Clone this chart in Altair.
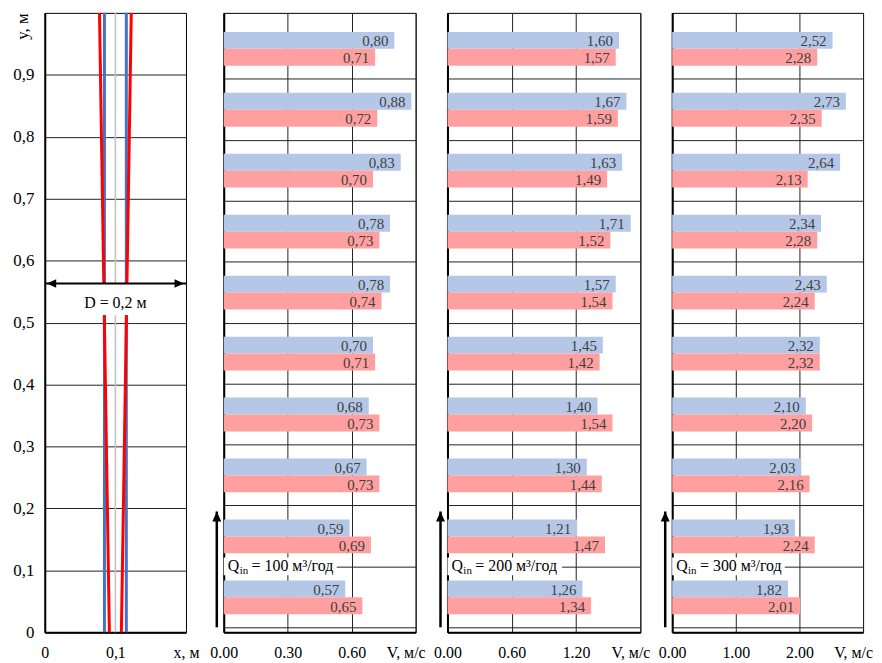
import altair as alt
import pandas as pd

# ---------------- data ----------------
levels = [0.05, 0.15, 0.25, 0.35, 0.45, 0.55, 0.65, 0.75, 0.85, 0.95]

q100_blue = [0.57, 0.59, 0.67, 0.68, 0.70, 0.78, 0.78, 0.83, 0.88, 0.80]
q100_red = [0.65, 0.69, 0.73, 0.73, 0.71, 0.74, 0.73, 0.70, 0.72, 0.71]
q200_blue = [1.26, 1.21, 1.30, 1.40, 1.45, 1.57, 1.71, 1.63, 1.67, 1.60]
q200_red = [1.34, 1.47, 1.44, 1.54, 1.42, 1.54, 1.52, 1.49, 1.59, 1.57]
q300_blue = [1.82, 1.93, 2.03, 2.10, 2.32, 2.43, 2.34, 2.64, 2.73, 2.52]
q300_red = [2.01, 2.24, 2.16, 2.20, 2.32, 2.24, 2.28, 2.13, 2.35, 2.28]

q_values = ["100", "200", "300"]
x_max = [0.9, 1.8, 3.0]
x_ticks = [[0, 0.3, 0.6, 0.9], [0, 0.6, 1.2, 1.8], [0, 1.0, 2.0, 3.0]]
label_box_end = [0.53, 1.07, 1.77]

y_ticks = [0, 0.1, 0.2, 0.3, 0.4, 0.5, 0.6, 0.7, 0.8, 0.9]

# pipe wall profiles (x, y); seg splits the break at the "D" label
wall_seg = ["rl1", "rl1", "rl2", "rl2", "rr1", "rr1", "rr2", "rr2"]
wall_x = [0.0915, 0.0843, 0.0836, 0.0775, 0.1085, 0.1157, 0.1164, 0.1225]
wall_y = [0.0, 0.512, 0.563, 1.0, 0.0, 0.512, 0.563, 1.0]

blue_seg = ["bl1", "bl1", "bl2", "bl2", "br1", "br1", "br2", "br2"]
blue_x = [0.0845, 0.0845, 0.0845, 0.0845, 0.1155, 0.1155, 0.1155, 0.1155]
blue_y = [0.0, 0.512, 0.563, 1.0, 0.0, 0.512, 0.563, 1.0]

axis_seg = ["c1", "c1", "c2", "c2"]
axis_x = [0.1, 0.1, 0.1, 0.1]
axis_y = [0.0, 0.512, 0.563, 1.0]

d_arrow_y = 0.563
d_text_y = 0.531
q_arrow_top = 0.19
q_label_y = 0.1

FONT = "Liberation Serif"
BLUE_BAR = "#b4c7e7"
RED_BAR = "#ff9f9f"
TXT = "#404040"

H = 623
LEFT_W = 142
PANEL_W = [193, 194, 192]

YS = alt.Scale(domain=[0, 1], nice=False, zero=False)


def y_enc(field="y", show_labels=False):
    extra = {}
    if show_labels:
        extra = dict(
            title="y, м", titleAngle=270, titleX=-22, titleY=0, titleAlign="right",
            titleBaseline="middle", titleFont=FONT, titleFontSize=17,
            titleFontWeight="normal", titleColor="black",
        )
    else:
        extra = dict(title=None)
    return alt.Y(
        f"{field}:Q",
        scale=YS,
        axis=alt.Axis(
            values=y_ticks,
            grid=True,
            gridColor="#222222",
            gridWidth=1,
            ticks=False,
            labels=show_labels,
            labelExpr="replace(format(datum.value, '.1~f'), '.', ',')",
            labelFont=FONT,
            labelFontSize=17,
            labelColor="black",
            labelPadding=11,
            labelOverlap=False,
            domainColor="black",
            domainWidth=2,
            **extra,
        ),
    )


# ---------------- left panel ----------------
walls = pd.DataFrame({"seg": wall_seg, "x": wall_x, "y": wall_y})
blues = pd.DataFrame({"seg": blue_seg, "x": blue_x, "y": blue_y})
center = pd.DataFrame({"seg": axis_seg, "x": axis_x, "y": axis_y})

XS_L = alt.Scale(domain=[0, 0.2], nice=False, zero=False)
left_x = alt.X(
    "x:Q",
    scale=XS_L,
    axis=alt.Axis(
        values=[0, 0.1, 0.2],
        grid=False,
        ticks=False,
        labelExpr="datum.value >= 0.2 ? 'x, м' : replace(format(datum.value, '.1~f'), '.', ',')",
        labelFont=FONT,
        labelFontSize=16,
        labelColor="black",
        labelPadding=12,
        labelFlush=False,
        labelOverlap=False,
        domainColor="black",
        domainWidth=2,
        title=None,
    ),
)

base_left = alt.Chart(center).mark_line(color="#c0c0c0", strokeWidth=1.5).encode(
    x=left_x, y=y_enc("y", True), detail="seg:N", order="y:Q"
)
blue_lines = alt.Chart(blues).mark_line(color="#4472c4", strokeWidth=3).encode(
    x=left_x, y=y_enc("y", True), detail="seg:N", order="y:Q"
)
red_lines = alt.Chart(walls).mark_line(color="#ff0000", strokeWidth=3).encode(
    x=left_x, y=y_enc("y", True), detail="seg:N", order="y:Q"
)

d_df = pd.DataFrame({"x": [0.0], "x2": [0.2], "y": [d_arrow_y], "yt": [d_text_y], "xc": [0.1], "t": ["D = 0,2 м"]})
d_rule = alt.Chart(d_df).mark_rule(color="black", strokeWidth=2).encode(
    x=left_x, x2="x2:Q", y=y_enc("y", True)
)
d_head_l = alt.Chart(d_df).mark_point(
    shape="M0,0 L1,-0.45 L1,0.45 Z", filled=True, color="black", opacity=1, size=360, xOffset=2
).encode(x=left_x, y=y_enc("y", True))
d_head_r = alt.Chart(d_df).mark_point(
    shape="M0,0 L-1,-0.45 L-1,0.45 Z", filled=True, color="black", opacity=1, size=360, xOffset=-2
).encode(x=alt.X("x2:Q", scale=XS_L), y=y_enc("y", True))
d_text = alt.Chart(d_df).mark_text(font=FONT, fontSize=16, color="black", baseline="middle").encode(
    x=alt.X("xc:Q", scale=XS_L), y=alt.Y("yt:Q", scale=YS), text="t:N"
)

left = alt.layer(
    base_left, blue_lines, red_lines, d_rule, d_head_l, d_head_r, d_text
).properties(width=LEFT_W, height=H)


# ---------------- bar panels ----------------
def fmt(v):
    return f"{v:.2f}".replace(".", ",")


def bar_panel(i, blue, red):
    xm = x_max[i]
    xs = alt.Scale(domain=[0, xm], nice=False, zero=True)
    xe = alt.X(
        "v:Q",
        scale=xs,
        axis=alt.Axis(
            values=x_ticks[i],
            grid=True,
            gridColor="#222222",
            gridWidth=1,
            ticks=False,
            labelExpr=f"datum.value >= {xm} ? 'V, м/с' : format(datum.value, '.2f')",
            labelOffset={"condition": {"test": f"datum.value >= {xm}", "value": -10}, "value": 0},
            labelFont=FONT,
            labelFontSize=16,
            labelColor="black",
            labelPadding=12,
            labelFlush=False,
            labelOverlap=False,
            domainColor="black",
            domainWidth=2,
            title=None,
        ),
    )
    dfb = pd.DataFrame({"level": levels, "v": blue, "label": [fmt(v) for v in blue]})
    dfr = pd.DataFrame({"level": levels, "v": red, "label": [fmt(v) for v in red]})

    bars_b = alt.Chart(dfb).mark_bar(orient="horizontal", size=17, yOffset=-8, color=BLUE_BAR).encode(
        x=xe, y=y_enc("level")
    )
    bars_r = alt.Chart(dfr).mark_bar(orient="horizontal", size=17, yOffset=9, color=RED_BAR).encode(
        x=xe, y=y_enc("level")
    )
    txt_b = alt.Chart(dfb).mark_text(
        font=FONT, fontSize=15, color=TXT, align="right", baseline="middle", dx=-6, yOffset=-7
    ).encode(x=xe, y=y_enc("level"), text="label:N")
    txt_r = alt.Chart(dfr).mark_text(
        font=FONT, fontSize=15, color=TXT, align="right", baseline="middle", dx=-6, yOffset=10
    ).encode(x=xe, y=y_enc("level"), text="label:N")

    ann = pd.DataFrame({
        "v": [0.0], "v2": [label_box_end[i]], "level": [q_label_y], "top": [q_arrow_top],
        "q": ["Q"], "sub": ["in"], "rest": [f"= {q_values[i]} м³/год"],
    })
    box = alt.Chart(ann).mark_bar(orient="horizontal", size=18, color="white").encode(
        x=xe, x2="v2:Q", y=y_enc("level")
    )
    t_q = alt.Chart(ann).mark_text(font=FONT, fontSize=16, color="black", align="left", baseline="middle", dx=4).encode(
        x=xe, y=y_enc("level"), text="q:N"
    )
    t_sub = alt.Chart(ann).mark_text(font=FONT, fontSize=11, color="black", align="left", baseline="middle", dx=16, dy=5).encode(
        x=xe, y=y_enc("level"), text="sub:N"
    )
    t_rest = alt.Chart(ann).mark_text(font=FONT, fontSize=16, color="black", align="left", baseline="middle", dx=28).encode(
        x=xe, y=y_enc("level"), text="rest:N"
    )
    arrow = alt.Chart(ann).mark_rule(color="black", strokeWidth=2.5).encode(
        x=alt.value(-7), y=alt.Y("top:Q", scale=YS), y2=alt.datum(0)
    )
    head = alt.Chart(ann).mark_point(
        shape="M0,0 L-0.45,1 L0.45,1 Z", filled=True, color="black", opacity=1, size=400
    ).encode(x=alt.value(-7), y=alt.Y("top:Q", scale=YS))

    return alt.layer(
        bars_b, bars_r, txt_b, txt_r, box, t_q, t_sub, t_rest, arrow, head
    ).properties(width=PANEL_W[i], height=H)


p1 = bar_panel(0, q100_blue, q100_red)
p2 = bar_panel(1, q200_blue, q200_red)
p3 = bar_panel(2, q300_blue, q300_red)

right = alt.hconcat(p1, p2, p3, spacing=32, bounds="flush")

chart = alt.hconcat(left, right, spacing=38, bounds="flush").properties(
    padding={"left": 4, "top": -4, "right": 0, "bottom": 0}
).configure_view(stroke="black", strokeWidth=1).configure_concat(spacing=32)

chart.save("out.html", embed_options={"renderer": "svg", "actions": False})
